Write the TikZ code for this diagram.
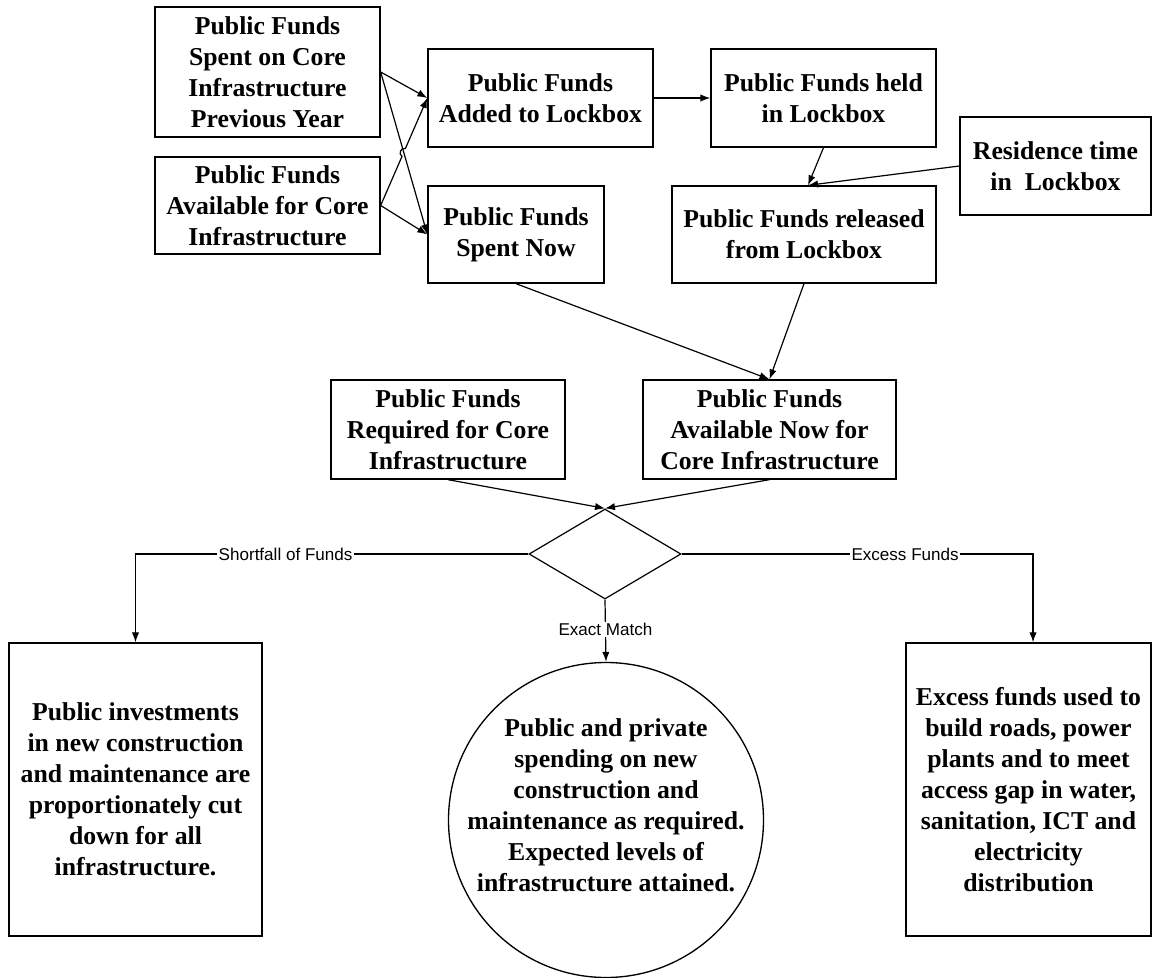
\documentclass[tikz,border=0pt]{standalone}
\usepackage{fontspec}
\setmainfont{Liberation Serif}
\newfontfamily\edgefont{Liberation Sans}
\usetikzlibrary{arrows.meta,shapes.geometric,calc}

\begin{document}
\begin{tikzpicture}[x=0.75pt,y=-0.75pt,
  boxtext/.style={align=center, inner sep=0pt,
    font=\fontsize{19.3}{23.25}\selectfont\bfseries},
  box/.style={boxtext, draw, line width=1pt},
  flow/.style={draw, line width=0.9pt, -{Latex[length=7.5pt,width=5.5pt]}},
  branch/.style={font=\fontsize{12.8}{14}\selectfont\edgefont, fill=white, inner sep=1pt}
]
\useasboundingbox (0,0) rectangle (1154,978);

% upper row: sources and lockbox flow
\node[box, minimum width=168.75pt, minimum height=97.5pt] (prev) at (267.5,72)
  {Public Funds\\Spent on Core\\Infrastructure\\Previous Year};
\node[box, minimum width=168.75pt, minimum height=72.75pt] (avail) at (267.5,205.5)
  {Public Funds\\Available for Core\\Infrastructure};
\node[box, minimum width=168.75pt, minimum height=73.5pt] (added) at (540.5,98)
  {Public Funds\\Added to Lockbox};
\node[box, minimum width=132pt, minimum height=72.75pt] (spent) at (516,234.5)
  {Public Funds\\Spent Now};
\node[box, minimum width=168.75pt, minimum height=73.5pt] (held) at (823.5,98)
  {Public Funds held\\in Lockbox};
\node[box, minimum width=143.25pt, minimum height=73.5pt] (resid) at (1055.5,166)
  {Residence time\\in\ \ Lockbox};
\node[box, minimum width=198pt, minimum height=72.75pt] (released) at (804,234.5)
  {Public Funds released\\from Lockbox};

% middle row
\node[box, minimum width=175.5pt, minimum height=74.25pt] (req) at (448,429.5)
  {Public Funds\\Required for Core\\Infrastructure};
\node[box, minimum width=189.75pt, minimum height=74.25pt] (now) at (769.5,429.5)
  {Public Funds\\Available Now for\\Core Infrastructure};

% decision
\node[diamond, draw, line width=0.9pt, inner sep=0pt,
  minimum width=114pt, minimum height=67.5pt] (cmp) at (605,554) {};

% outcomes
\node[box, minimum width=189.75pt, minimum height=219.75pt] (cut) at (135.5,789.5)
  {Public investments\\in new construction\\and maintenance are\\proportionately cut\\down for all\\infrastructure.};
\node[box, minimum width=183.75pt, minimum height=219.75pt] (excess) at (1028.5,789.5)
  {Excess funds used to\\build roads, power\\plants and to meet\\access gap in water,\\sanitation, ICT and\\electricity\\distribution};
\node[circle, draw, line width=1pt, minimum size=236.25pt, inner sep=0pt,
  label={[boxtext, yshift=11.25pt]center:Public and private\\spending on new\\construction and\\maintenance as required.\\Expected levels of\\infrastructure attained.}]
  (match) at (606,820) {};

% connectors
\draw[flow] (prev.east) -- (added.west);
\draw[flow] (prev.east) -- (spent.west);
\draw[flow] (avail.east) -- ($(avail.east)!0.458!(added.west)$)
  to[bend left=90, looseness=1.4] ($(avail.east)!0.53!(added.west)$) -- (added.west);
\draw[flow] (avail.east) -- (spent.west);
\draw[flow] (added.east) -- (held.west);
\draw[flow] (held.south) -- ([xshift=3pt]released.north);
\draw[flow] (resid.west) -- ([xshift=3pt]released.north);
\draw[flow] (spent.south) -- (now.north);
\draw[flow] (released.south) -- (now.north);
\draw[flow] (req.south) -- (cmp.north);
\draw[flow] (now.south) -- (cmp.north);

\draw[flow] (cmp.west) -| node[branch, pos=0.309] {Shortfall of Funds} (cut.north);
\draw[flow] (cmp.east) -| node[branch, pos=0.318] {Excess Funds} ([xshift=3.4pt]excess.north);
\draw[flow] (cmp.south) -- node[branch, pos=0.48] {Exact Match} (match.north);
\end{tikzpicture}
\end{document}
